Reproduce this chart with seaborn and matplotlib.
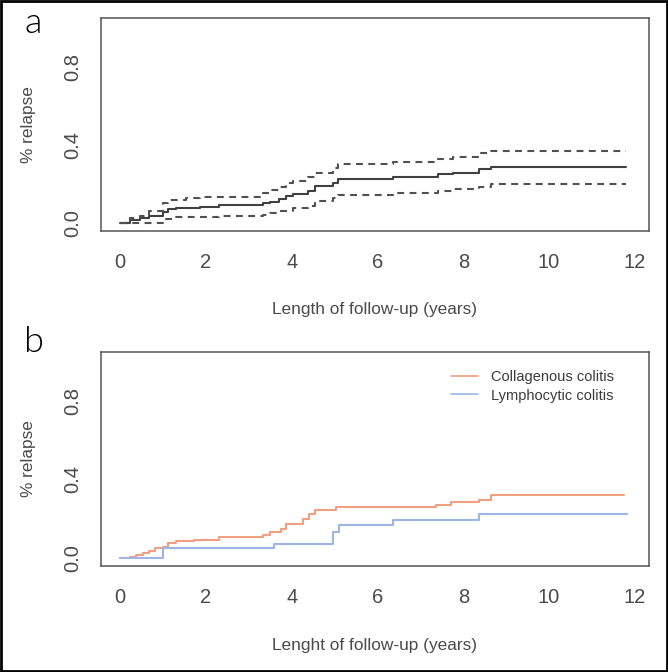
import numpy as np
import pandas as pd
import matplotlib
matplotlib.use("Agg")
import matplotlib.pyplot as plt
import seaborn as sns
from matplotlib.patches import Rectangle

# ---------- data ----------
# panel a: overall cumulative relapse with 95% CI
time_a = [0, 0.23, 0.45, 0.68, 0.99, 1.11, 1.30, 1.54, 1.85, 2.31, 3.32, 3.48, 3.71,
          3.87, 4.02, 4.37, 4.53, 4.95, 5.07, 6.35, 7.40, 7.75, 8.37, 8.64, 11.8]
est_a = [0, 0.013, 0.025, 0.036, 0.058, 0.070, 0.077, 0.077, 0.080, 0.091, 0.101, 0.109,
         0.121, 0.138, 0.149, 0.164, 0.190, 0.204, 0.226, 0.236, 0.250, 0.258, 0.275,
         0.289, 0.289]
upper_a = [0, 0.025, 0.036, 0.063, 0.104, 0.118, 0.118, 0.130, 0.135, 0.135, 0.156, 0.169,
           0.183, 0.204, 0.217, 0.237, 0.258, 0.280, 0.303, 0.313, 0.327, 0.340, 0.357,
           0.371, 0.371]
lower_a = [0, 0, 0, 0, 0.019, 0.019, 0.029, 0.029, 0.029, 0.036, 0.041, 0.050, 0.061,
           0.061, 0.075, 0.087, 0.114, 0.126, 0.144, 0.154, 0.164, 0.173, 0.186, 0.198,
           0.198]

# panel b: by subtype
groups = ["Collagenous colitis", "Lymphocytic colitis"]
time_cc = [0, 0.23, 0.37, 0.53, 0.68, 0.80, 1.0, 1.11, 1.30, 1.73, 2.31, 3.32, 3.48,
           3.75, 3.87, 4.25, 4.41, 4.53, 5.03, 7.36, 7.71, 8.37, 8.64, 11.75]
rel_cc = [0, 0.007, 0.017, 0.027, 0.037, 0.050, 0.058, 0.075, 0.085, 0.094, 0.106,
          0.119, 0.131, 0.149, 0.171, 0.200, 0.226, 0.243, 0.260, 0.272, 0.285, 0.297,
          0.319, 0.319]
time_lc = [0, 0.99, 3.59, 4.95, 5.10, 6.35, 8.37, 11.82]
rel_lc = [0, 0.051, 0.072, 0.131, 0.166, 0.191, 0.226, 0.226]

x_ticks = [0, 2, 4, 6, 8, 10, 12]
y_ticks = [0, 0.2, 0.4, 0.6, 0.8, 1.0]
y_ticklabels = ["0.0", "", "0.4", "", "0.8", ""]

df_a = pd.DataFrame({"time": time_a, "est": est_a, "upper": upper_a, "lower": lower_a})
df_b = pd.concat([
    pd.DataFrame({"time": time_cc, "relapse": rel_cc, "group": groups[0]}),
    pd.DataFrame({"time": time_lc, "relapse": rel_lc, "group": groups[1]}),
])

# ---------- style ----------
sns.set_style("white")
plt.rcParams["font.family"] = ["Liberation Sans", "DejaVu Sans"]
txt = "#4a4a4a"
axc = "#555555"

W, H = 668, 672
fig = plt.figure(figsize=(W / 100, H / 100), dpi=100)
ax_a = fig.add_axes([101 / W, 1 - 231 / H, 548 / W, 213 / H])
ax_b = fig.add_axes([101 / W, 1 - 566 / H, 548 / W, 214 / H])

# ---------- panel a ----------
sns.lineplot(data=df_a, x="time", y="est", ax=ax_a, color="#404040", lw=1.5,
             drawstyle="steps-post", errorbar=None)
for col in ["upper", "lower"]:
    sns.lineplot(data=df_a, x="time", y=col, ax=ax_a, color="#505050", lw=1.5,
                 drawstyle="steps-post", errorbar=None, dashes=False,
                 linestyle=(0, (3.3, 2.6)))

# ---------- panel b ----------
sns.lineplot(data=df_b, x="time", y="relapse", hue="group", hue_order=groups,
             palette=["#F0A080", "#9DB5E6"], ax=ax_b, lw=1.5,
             drawstyle="steps-post", errorbar=None)
sns.move_legend(ax_b, "upper left", bbox_to_anchor=(0.638, 0.915), frameon=False,
                title=None, fontsize=10.5, handlelength=1.9, handletextpad=0.9,
                labelspacing=0.3, borderpad=0, borderaxespad=0, labelcolor="#3a3a3a")
for ln in ax_b.get_legend().get_lines():
    ln.set_linewidth(1.2)

xlabels = ["Length of follow-up (years)", "Lenght of follow-up (years)"]
for ax, xl in zip([ax_a, ax_b], xlabels):
    ax.set_xlim(-0.45, 12.33)
    ax.set_ylim(-0.041, 1.05)
    ax.set_xticks(x_ticks)
    ax.set_xticklabels([str(v) for v in x_ticks])
    ax.set_yticks(y_ticks)
    ax.set_yticklabels(y_ticklabels, rotation=90, va="center")
    ax.tick_params(axis="both", direction="out", length=7.5, width=1, color=axc,
                   labelsize=14.5, labelcolor=txt)
    ax.tick_params(axis="x", pad=8.5)
    ax.tick_params(axis="y", pad=6)
    for sp in ax.spines.values():
        sp.set_visible(True)
        sp.set_color(axc)
        sp.set_linewidth(1.1)
    ax.set_xlabel(xl, fontsize=12.4, color=txt, va="top")
    ax.set_ylabel("% relapse", fontsize=12.4, color=txt)
    ax.xaxis.set_label_coords(0.5, -0.335)
    ax.yaxis.set_label_coords(-0.118, 0.5)

# panel letters
fig.text(24 / W, 1 - 33 / H, "a", fontsize=26, color="black", va="baseline",
         family=["Lato", "DejaVu Sans"], fontweight=300)
fig.text(24 / W, 1 - 352 / H, "b", fontsize=26, color="black", va="baseline",
         family=["Lato", "DejaVu Sans"], fontweight=300)

# outer frame
fig.patches.append(Rectangle((0.0015, 0.0015), 0.997, 0.997, transform=fig.transFigure,
                             fill=False, edgecolor="black", linewidth=2))

fig.savefig("out.png", dpi=100)
